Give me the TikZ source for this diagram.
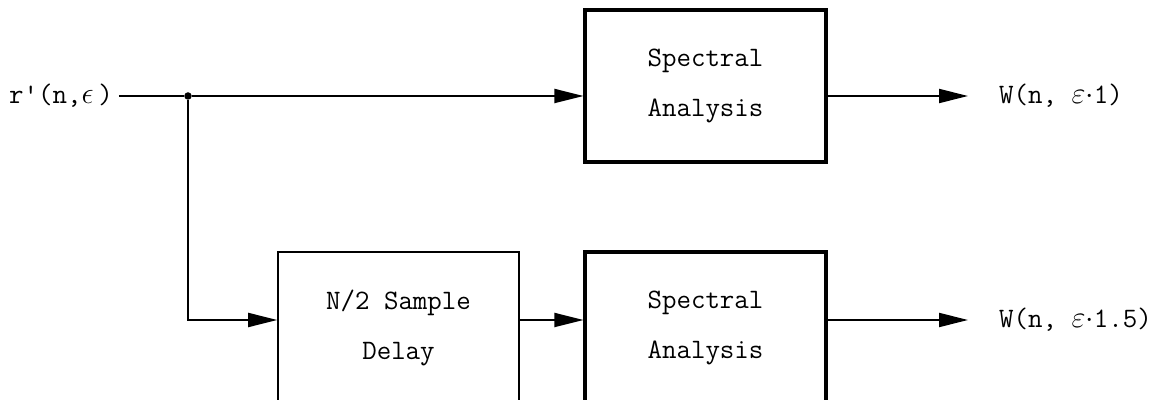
\documentclass[tikz,border=0pt]{standalone}
\usepackage{tikz}
\usetikzlibrary{arrows.meta,positioning}

\begin{document}
\begin{tikzpicture}[
    font=\ttfamily\fontsize{16}{28.5}\selectfont,
    block/.style={draw, rectangle, minimum width=4.82cm, minimum height=3.04cm, align=center},
    specbox/.style={block, line width=1.8pt},
    delaybox/.style={block, line width=0.9pt},
    wire/.style={line width=1.1pt},
    sig/.style={wire, -{Triangle[length=0.58cm,width=0.28cm]}}
]
    \useasboundingbox (0,0) rectangle (23.28,8.08);
    \clip (0,0.08) rectangle (23.28,8.08);

    \node (r) at (1.22,6.16) {r\textquotesingle(n,$\epsilon$\,)};
    \node[circle, fill, inner sep=0pt, minimum size=0.15cm] (j) at (3.76,6.16) {};

    \node[specbox] (spec1) at (14.11,6.36) {Spectral\\Analysis};
    \node[delaybox] (delay) at (7.97,1.52) {N/2 Sample\\Delay};
    \node[specbox] (spec2) at (14.11,1.52) {Spectral\\Analysis};

    \coordinate (o1) at (19.36,6.16);
    \coordinate (o2) at (19.36,1.68);
    \node[right=0.5cm of o1] (w1) {W(n, $\varepsilon\cdot$1)};
    \node[right=0.5cm of o2] (w2) {W(n, $\varepsilon\cdot$1.5)};

    \draw[wire] (r.east) -- (j);
    \draw[sig] (j) -- (j -| spec1.west);
    \draw[sig] (j -| spec1.east) -- (o1);

    \draw[sig] (j) |- ([yshift=0.16cm]delay.west);
    \draw[sig] ([yshift=0.16cm]delay.east) -- ([yshift=0.16cm]spec2.west);
    \draw[sig] ([yshift=0.16cm]spec2.east) -- (o2);

\end{tikzpicture}
\end{document}
